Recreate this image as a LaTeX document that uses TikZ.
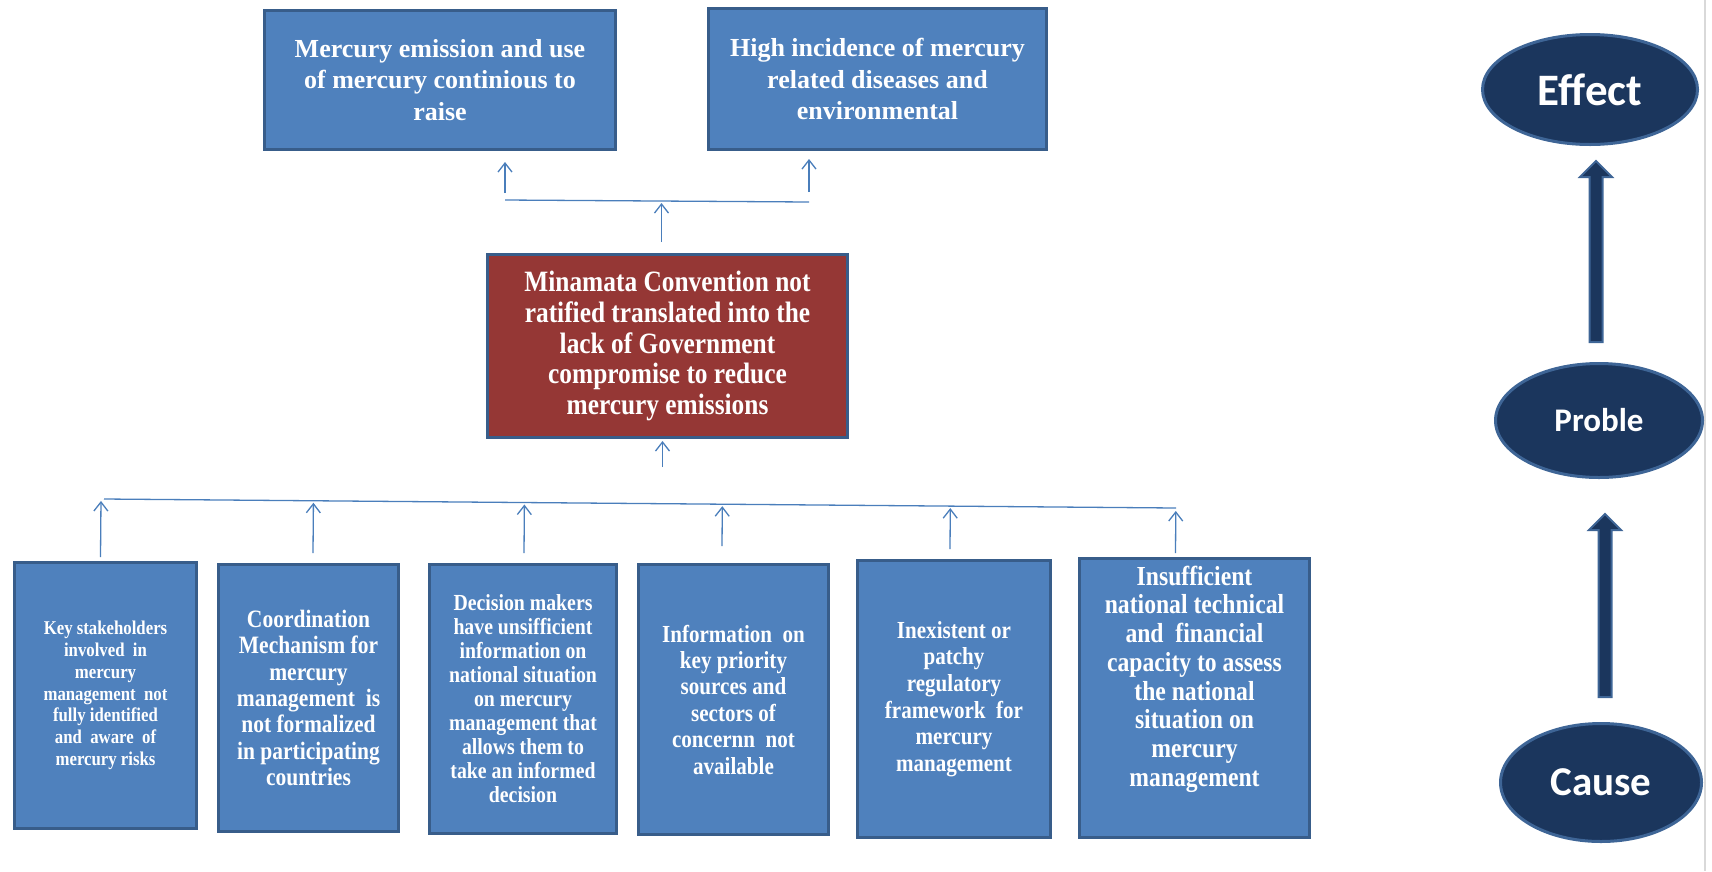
\documentclass[tikz,border=0pt]{standalone}
\usepackage{fontspec}
\setmainfont{Liberation Serif}
\newfontfamily\narrowfont{Liberation Serif}[FakeStretch=0.86]
\newfontfamily\calfont{Carlito}
\usepackage{xcolor}
\usepackage{tikz}
\usetikzlibrary{shapes.geometric, arrows.meta, positioning, calc}
\definecolor{BoxBlue}{HTML}{4F81BD}
\definecolor{BoxEdge}{HTML}{385D8A}
\definecolor{ProbRed}{HTML}{953735}
\definecolor{LineBlue}{HTML}{4A7EBB}
\definecolor{NavyDark}{HTML}{1B365D}
\definecolor{NavyEdge}{HTML}{3E6596}
\definecolor{EdgeGrey}{HTML}{D9D9D9}

\tikzset{
  box/.style={rectangle, draw=BoxEdge, line width=3pt, fill=BoxBlue, text=white, align=center, inner sep=0pt},
  boxtxt/.style={text=white, align=center, inner sep=0pt},
  conn/.style={draw=LineBlue, line width=1.3pt, -{Straight Barb[length=9pt,width=14pt]}},
  bus/.style={draw=LineBlue, line width=1.3pt},
  level/.style={ellipse, draw=NavyEdge, line width=3pt, fill=NavyDark, text=white, inner sep=0pt},
  bigarr/.style={fill=NavyDark, draw=NavyEdge, line width=2pt}
}

\begin{document}
\begin{tikzpicture}[x=1pt, y=-1pt]
\useasboundingbox (0,0) rectangle (1712,871);
\draw[EdgeGrey, line width=2pt] (1705,0) -- (1705,871);

% --- EFFECTS (TOP) ---
\node[box, minimum width=351pt, minimum height=139pt, font=\bfseries\fontsize{26}{31.7}\selectfont] (eff1) at (440,80)
  {Mercury emission and use\\ of mercury continious to\\ raise};
\node[box, minimum width=338pt, minimum height=141pt, font=\bfseries\fontsize{26}{31.7}\selectfont] (eff2) at (877.5,79)
  {High incidence of mercury\\ related diseases and\\ environmental};

% --- PROBLEM (CENTRE) ---
\node[box, fill=ProbRed, minimum width=360pt, minimum height=183pt, font=\narrowfont\bfseries\fontsize{29.5}{30.6}\selectfont] (prob) at (667.5,346)
  {Minamata Convention not\\ ratified translated into the\\ lack of Government\\ compromise to reduce\\ mercury emissions};

% Problem -> effects
\coordinate (topL) at (505,200);
\coordinate (topR) at (809,202);
\draw[bus] (topL) -- (topR);
\draw[conn] ($(topL)+(0,-7)$) -- ($(eff1.south -| topL)+(0,11)$);
\draw[conn] ($(topR)+(0,-10)$) -- ($(eff2.south -| topR)+(0,8)$);
\draw[conn] ($(prob.north)+(-6,-11)$) -- ($(prob.north)+(-6,-50)$);

% --- CAUSES (BOTTOM) ---
\node[box, minimum width=182pt, minimum height=266pt, font=\narrowfont\bfseries\fontsize{19.5}{21.8}\selectfont] (c1) at (105.5,695.5)
  {Key stakeholders\\ involved~ in\\ mercury\\ management~ not\\ fully identified\\ and~ aware~ of\\ mercury risks};
\node[box, minimum width=180pt, minimum height=267pt, font=\narrowfont\bfseries\fontsize{25}{26.4}\selectfont] (c2) at (308.5,698)
  {Coordination\\ Mechanism for\\ mercury\\ management~ is\\ not formalized\\ in participating\\ countries};
\node[box, minimum width=187pt, minimum height=269pt, font=\narrowfont\bfseries\fontsize{23}{24}\selectfont] (c3) at (523,699)
  {Decision makers\\ have unsifficient\\ information on\\ national situation\\ on mercury\\ management that\\ allows them to\\ take an informed\\ decision};
\node[box, minimum width=190pt, minimum height=270pt, font=\narrowfont\bfseries\fontsize{24.5}{26.4}\selectfont] (c4) at (733.5,699.5)
  {Information~ on\\ key priority\\ sources and\\ sectors of\\ concernn~ not\\ available};
\node[box, minimum width=193pt, minimum height=277pt, font=\narrowfont\bfseries\fontsize{24.5}{26.6}\selectfont] (c5) at (954,699)
  {Inexistent or\\ patchy\\ regulatory\\ framework~ for\\ mercury\\ management};
\node[box, minimum width=230pt, minimum height=279pt] (c6) at (1194.5,698) {};
\node[boxtxt, font=\narrowfont\bfseries\fontsize{27.5}{28.7}\selectfont] (c6txt) at ($(c6)+(0,-19)$)
  {Insufficient\\ national technical\\ and~ financial\\ capacity to assess\\ the national\\ situation on\\ mercury\\ management};

% Causes -> problem
\coordinate (busL) at (104,499);
\coordinate (busR) at (1176,508);
\draw[bus] (busL) -- (busR);
\coordinate (a1) at ($(c1.north)+(-5,-4)$);
\coordinate (a2) at ($(c2.north)+(4.5,-10)$);
\coordinate (a3) at ($(c3.north)+(1,-10)$);
\coordinate (a4) at ($(c4.north)+(-11.5,-17)$);
\coordinate (a5) at ($(c5.north)+(-4,-10)$);
\coordinate (a6) at ($(c6.north)+(-19,-4)$);
\draw[conn] (a1) -- ($(busL)!(a1)!(busR)+(0,2)$);
\draw[conn] (a2) -- ($(busL)!(a2)!(busR)+(0,2)$);
\draw[conn] (a3) -- ($(busL)!(a3)!(busR)+(0,2)$);
\draw[conn] (a4) -- ($(busL)!(a4)!(busR)+(0,2)$);
\draw[conn] (a5) -- ($(busL)!(a5)!(busR)+(0,2)$);
\draw[conn] (a6) -- ($(busL)!(a6)!(busR)+(0,3)$);
\draw[conn] ($(prob.south)+(-5,28)$) -- ($(prob.south)+(-5,2)$);

% --- LEGEND (RIGHT) ---
\node[level, minimum width=215pt, minimum height=110pt, font=\calfont\bfseries\fontsize{45}{50}\selectfont] (effect) at (1590,89.5) {Effect};
\node[level, minimum width=207pt, minimum height=114pt, font=\calfont\bfseries\fontsize{33}{38}\selectfont] (problem) at (1599,420.5) {Proble};
\node[level, minimum width=201pt, minimum height=118pt, font=\calfont\bfseries\fontsize{41}{48}\selectfont] (cause) at (1601,782.5) {Cause};

\coordinate (u0) at ($(problem.north)+(-3,-20)$);
\coordinate (u1) at ($(effect.south)+(6,15)$);
\filldraw[bigarr] ($(u0)+(-6.5,0)$) -- ($(u1)+(-6.5,16)$) -- ($(u1)+(-16,16)$) -- (u1)
  -- ($(u1)+(16,16)$) -- ($(u1)+(6.5,16)$) -- ($(u0)+(6.5,0)$) -- cycle;
\coordinate (l0) at ($(cause.north)+(4,-25)$);
\coordinate (l1) at ($(problem.south)+(6,35)$);
\filldraw[bigarr] ($(l0)+(-6.5,0)$) -- ($(l1)+(-6.5,16)$) -- ($(l1)+(-16,16)$) -- (l1)
  -- ($(l1)+(16,16)$) -- ($(l1)+(6.5,16)$) -- ($(l0)+(6.5,0)$) -- cycle;

\end{tikzpicture}
\end{document}
